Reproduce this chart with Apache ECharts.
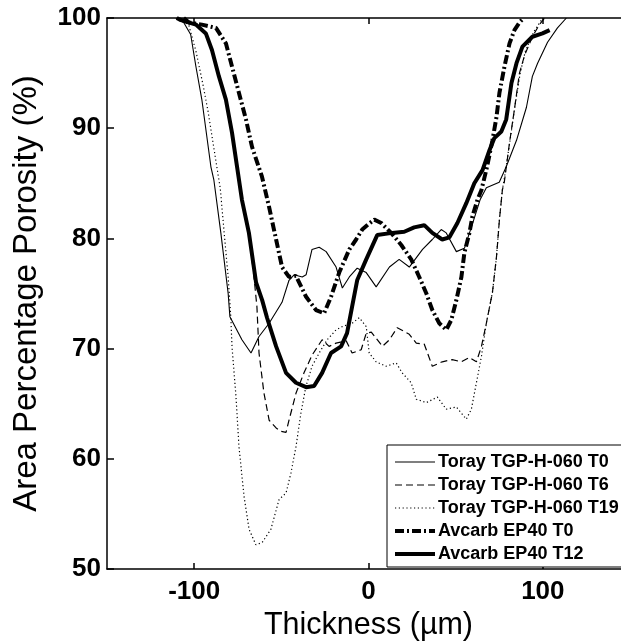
<!DOCTYPE html>
<html>
<head>
<meta charset="utf-8">
<script src="https://cdn.jsdelivr.net/npm/echarts@6/dist/echarts.min.js"></script>
<style>
  html, body { margin: 0; padding: 0; background: #fff; overflow: hidden; }
  #chart { width: 630px; height: 642px; }
</style>
</head>
<body>
<div id="chart"></div>
<script>
// tick labels
const xTicks = [-100, 0, 100];
const yTicks = [50, 60, 70, 80, 90, 100];

// series names
const names = ['Toray TGP-H-060 T0', 'Toray TGP-H-060 T6', 'Toray TGP-H-060 T19', 'Avcarb EP40 T0', 'Avcarb EP40 T12'];

// [thickness, porosity]
const torayT0 = [[-110.5,100],[-106,99.6],[-102,98.5],[-99,95.6],[-95.6,92.6],[-90.4,86.5],[-88.7,85.3],[-84.7,80.5],[-80.5,75],[-79.5,72.9],
  [-72.6,70.8],[-67.4,69.6],[-62.8,71.1],[-57,72.3],[-49.6,74.2],[-45.6,76.2],[-42.7,76.7],[-38,76.5],[-35.8,76.7],[-32.4,79.0],
  [-28.3,79.2],[-24.3,78.8],[-18.6,77.4],[-15,75.5],[-11,76.5],[-6.5,77.3],[-1.3,76.9],[4.4,75.6],[12,77.4],[17.6,78.1],
  [23.4,77.4],[31,79.0],[36.6,79.9],[41.7,80.8],[44.6,80.5],[50.4,78.8],[55,79.1],[60,81.5],[64,83.5],[67.6,84.6],
  [75,85.1],[79,86.5],[84.9,88.9],[90.6,91.9],[94,94.7],[97,95.9],[102.7,97.8],[108.4,99.1],[113.5,100]];

const torayT6 = [[-108,100],[-99,99.4],[-93.3,98.6],[-89.8,97.1],[-85.8,94.7],[-81.8,92.6],[-78.3,89.6],[-75.4,86.5],[-72.6,83.5],[-68.6,80.5],
  [-65.7,76.5],[-64,73.8],[-62.8,69.6],[-60,66],[-57,63.5],[-53,62.8],[-50.2,62.5],[-47.3,62.4],[-45.6,63.5],[-41.5,66],
  [-37,67.8],[-32.4,69.4],[-26.6,70.8],[-22.6,70.2],[-18.6,70.5],[-12.8,70.7],[-9.4,69.6],[-4.2,69.9],[-1.3,71.4],[1.6,71.5],
  [8,70.2],[12,70.8],[16.5,71.9],[23.4,71.3],[27.4,70.5],[32,70.4],[36.6,68.4],[42.3,68.8],[48,69.0],[53.3,68.8],
  [57.9,69.2],[61.9,68.8],[64.8,70.2],[67.6,72.3],[71.1,75.1],[73.4,78.3],[75.1,81.7],[76.8,84.4],[77.9,85.1],[80.9,88.7],
  [83.7,91.7],[86.6,95],[89.5,96.6],[94,98.3],[98,99.4],[101,100]];

const torayT19 = [[-108,100],[-103,99.3],[-99,97],[-95,94],[-92,91.5],[-88,87.5],[-85,84.5],[-82.5,80],[-80.5,76.5],[-79,72.9],
  [-78.3,70.2],[-76,65.6],[-74.3,61.1],[-71.4,56.6],[-68.5,53.6],[-64.6,52.2],[-61,52.4],[-56,53.6],[-51.3,56.3],[-47.3,56.9],
  [-44.5,58.7],[-41.6,61.1],[-38.7,64.2],[-36,66.5],[-32.4,68.4],[-28.3,69.6],[-23.7,70.8],[-18.6,71.7],[-15,72],[-9.4,72.3],
  [-5.3,72.8],[-1.3,72],[0.4,69.6],[4.4,68.8],[10.1,68.4],[15.9,68.7],[19.3,67.8],[24.5,66.9],[27.4,65.4],[33.2,65.1],
  [39.5,65.6],[44.6,64.5],[50.4,64.7],[56.1,63.6],[59,64.5],[61.9,66.9],[64.8,69.3],[67.6,72.3],[71.1,75.1],[73.4,78.3],
  [75.1,81.7],[76.8,84.4],[78.5,86],[81,88.7],[84,92],[87,95],[90,97],[95,98.8],[100,100]];

const avcarbT0 = [[-106,100],[-103,99.6],[-95.6,99.4],[-87.5,99.1],[-81.8,97.7],[-78.3,95.6],[-74.3,93.2],[-70.3,90.8],[-66.8,88.3],[-61.1,85.6],
  [-57.1,82.9],[-53,79.9],[-49.6,77.4],[-45.6,76.5],[-41.6,76.6],[-35.8,74.7],[-30.1,73.5],[-25.5,73.2],[-21.5,74.7],[-16.8,76.9],
  [-11,79.0],[-7.1,79.9],[-3.6,80.8],[0,81.3],[3.3,81.7],[7.3,81.4],[13,80.5],[18.8,79.4],[24.5,78.1],[29.1,76.5],
  [33.2,75.0],[36.6,73.5],[40.6,72.3],[44.6,71.7],[47.5,72.6],[50.4,74.4],[53.3,76.5],[55,78.7],[57.9,80.5],[59.6,82.0],
  [62.5,83.5],[64.8,84.4],[68,86.5],[71.1,88.9],[73.4,91.0],[75.1,93.2],[78,95.6],[80.9,97.7],[83.7,98.9],[86.6,99.6],[89,100]];

const avcarbT12 = [[-110,100],[-107.6,99.8],[-99,99.4],[-93.3,98.6],[-89.8,97.1],[-85.8,94.7],[-81.8,92.6],[-78.3,89.6],[-75.4,86.5],[-72.6,83.5],
  [-68.6,80.5],[-64.5,76],[-61,74.4],[-58.2,72.8],[-53,70.2],[-47.3,67.8],[-41.6,66.9],[-35.8,66.5],[-31.2,66.6],[-26.6,67.8],
  [-21.5,69.6],[-15.7,70.2],[-12.3,71.4],[-9.4,73.8],[-6.5,76.2],[-1.3,78.1],[5,80.3],[13.6,80.5],[20.5,80.6],[26.2,81.0],
  [32,81.2],[36.6,80.5],[42.3,79.9],[46.4,80.1],[51,81.4],[56.1,83.2],[60.7,85],[65.4,86.2],[69.4,88.0],[72.2,89.1],
  [76.2,89.7],[79,90.8],[82,94.1],[84.9,95.9],[88.3,97.4],[94,98.3],[99.8,98.6],[103.9,98.9]];

const font = '"Liberation Sans", Arial, sans-serif';

// line styles, used for both series and legend icons
const widths = [1.1, 1.2, 1.2, 4, 4];
const dashes = ['solid', [7, 4], [1.2, 2.6], [9, 3, 2, 3], 'solid'];
const seriesData = [torayT0, torayT6, torayT19, avcarbT0, avcarbT12];

let chart = echarts.init(document.getElementById('chart'), null, { renderer: 'canvas' });

let option = {
  animation: false,
  backgroundColor: '#fff',
  grid: { left: 107, right: 0, top: 18, bottom: 73, outerBoundsMode: 'none' },
  legend: {
    orient: 'vertical',
    left: 387,
    top: 445,
    data: names.map((n, i) => ({
      name: n,
      lineStyle: { color: '#000', width: widths[i], type: dashes[i] }
    })),
    itemWidth: 40,
    itemHeight: 14,
    itemGap: 5,
    padding: [8, 16, 4, 6],
    borderColor: '#000',
    borderWidth: 1,
    backgroundColor: '#fff',
    itemStyle: { opacity: 0 },
    textStyle: { fontFamily: font, fontSize: 18, fontWeight: 'bold', color: '#000', lineHeight: 18, padding: [0, 0, 0, -2] }
  },
  xAxis: [
    {
      type: 'value',
      min: -150,
      max: 150,
      name: 'Thickness (µm)',
      nameLocation: 'middle',
      nameGap: 26,
      nameTextStyle: { fontFamily: font, fontSize: 30.5, color: '#000' },
      axisLine: { show: true, onZero: false, lineStyle: { color: '#000', width: 1.5 } },
      axisTick: { show: true, inside: true, length: 6, customValues: xTicks, lineStyle: { color: '#000', width: 1.5 } },
      axisLabel: { customValues: xTicks, fontFamily: font, fontSize: 26, fontWeight: 'bold', color: '#000', margin: 10 },
      splitLine: { show: false }
    },
    {
      type: 'value',
      position: 'top',
      min: -150,
      max: 150,
      axisLine: { show: true, onZero: false, lineStyle: { color: '#000', width: 1.5 } },
      axisTick: { show: true, inside: true, length: 6, customValues: xTicks, lineStyle: { color: '#000', width: 1.5 } },
      axisLabel: { show: false },
      splitLine: { show: false }
    }
  ],
  yAxis: {
    type: 'value',
    min: 50,
    max: 100,
    interval: 10,
    name: 'Area Percentage Porosity (%)',
    nameLocation: 'middle',
    nameGap: 64,
    nameTextStyle: { fontFamily: font, fontSize: 33, color: '#000' },
    axisLine: { show: true, onZero: false, lineStyle: { color: '#000', width: 1.5 } },
    axisTick: { show: true, inside: true, length: 7, lineStyle: { color: '#000', width: 1.5 } },
    axisLabel: { fontFamily: font, fontSize: 26, fontWeight: 'bold', color: '#000', margin: 6,
      customValues: yTicks },
    splitLine: { show: false }
  },
  series: seriesData.map((d, i) => ({
    name: names[i],
    type: 'line',
    data: d,
    symbol: 'none',
    lineStyle: { color: '#000', width: widths[i], type: dashes[i] },
    itemStyle: { color: '#000' }
  }))
};

chart.setOption(option);
</script>
</body>
</html>
